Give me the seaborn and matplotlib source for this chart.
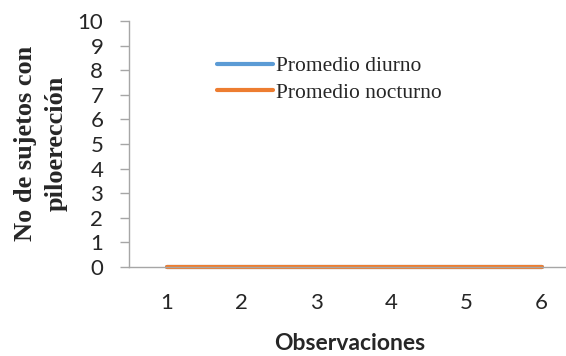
import matplotlib
matplotlib.use("Agg")
import matplotlib.pyplot as plt
import seaborn as sns
import pandas as pd

observaciones = [1, 2, 3, 4, 5, 6]
promedio_diurno = [0, 0, 0, 0, 0, 0]
promedio_nocturno = [0, 0, 0, 0, 0, 0]
series_names = ["Promedio diurno", "Promedio nocturno"]
y_ticks = list(range(0, 11))

df = pd.DataFrame({
    "Observaciones": observaciones * 2,
    "valor": promedio_diurno + promedio_nocturno,
    "serie": [series_names[0]] * 6 + [series_names[1]] * 6,
})

sns.set_style("white")
fig = plt.figure(figsize=(5.66, 3.56), dpi=100)
ax = fig.add_axes([129 / 566, 1 - 267 / 356, (579 - 129) / 566, (267 - 21) / 356])

palette = {series_names[0]: "#5B9BD5", series_names[1]: "#ED7D31"}
sns.lineplot(data=df, x="Observaciones", y="valor", hue="serie", palette=palette,
             linewidth=3, ax=ax, legend=True)
for line in ax.get_lines():
    line.set_solid_capstyle("round")
    line.set_clip_on(False)

ax.set_xlim(0.5, 6.5)
ax.set_ylim(0, 10)
ax.set_yticks(y_ticks)
ax.set_xticks(observaciones)

grey = "#A6A6A6"
for side in ["top", "right"]:
    ax.spines[side].set_visible(False)
for side in ["left", "bottom"]:
    ax.spines[side].set_color(grey)
    ax.spines[side].set_linewidth(1)

ax.tick_params(axis="y", which="major", length=6.5, color=grey, width=1,
               labelsize=16, pad=12, direction="out", left=True)
ax.tick_params(axis="x", length=0, labelsize=16, pad=19)
for lbl in ax.get_xticklabels() + ax.get_yticklabels():
    lbl.set_family("Lato")

ax.set_xlabel("Observaciones", fontfamily="Lato", fontweight="bold", fontsize=16.5)
ax.xaxis.label.set_va("center")
ax.xaxis.set_label_coords((350 - 129) / 450, -(343 - 267) / 246)
ax.set_ylabel("No de sujetos con\npiloerección", fontfamily="Liberation Serif",
              fontweight="bold", fontsize=19, linespacing=1.45)
ax.yaxis.label.set_va("center")
ax.yaxis.set_label_coords(-(129 - 41) / 450, (267 - 143) / 246)

leg = ax.legend(frameon=False, loc="upper left",
                bbox_to_anchor=((217 - 129) / 450, 1 - (56 - 21) / 246),
                prop={"family": "Liberation Serif", "size": 15.5},
                handlelength=2.6, handletextpad=0.15, labelspacing=0.3,
                borderpad=0, borderaxespad=0)

fig.savefig("out.png", dpi=100)
